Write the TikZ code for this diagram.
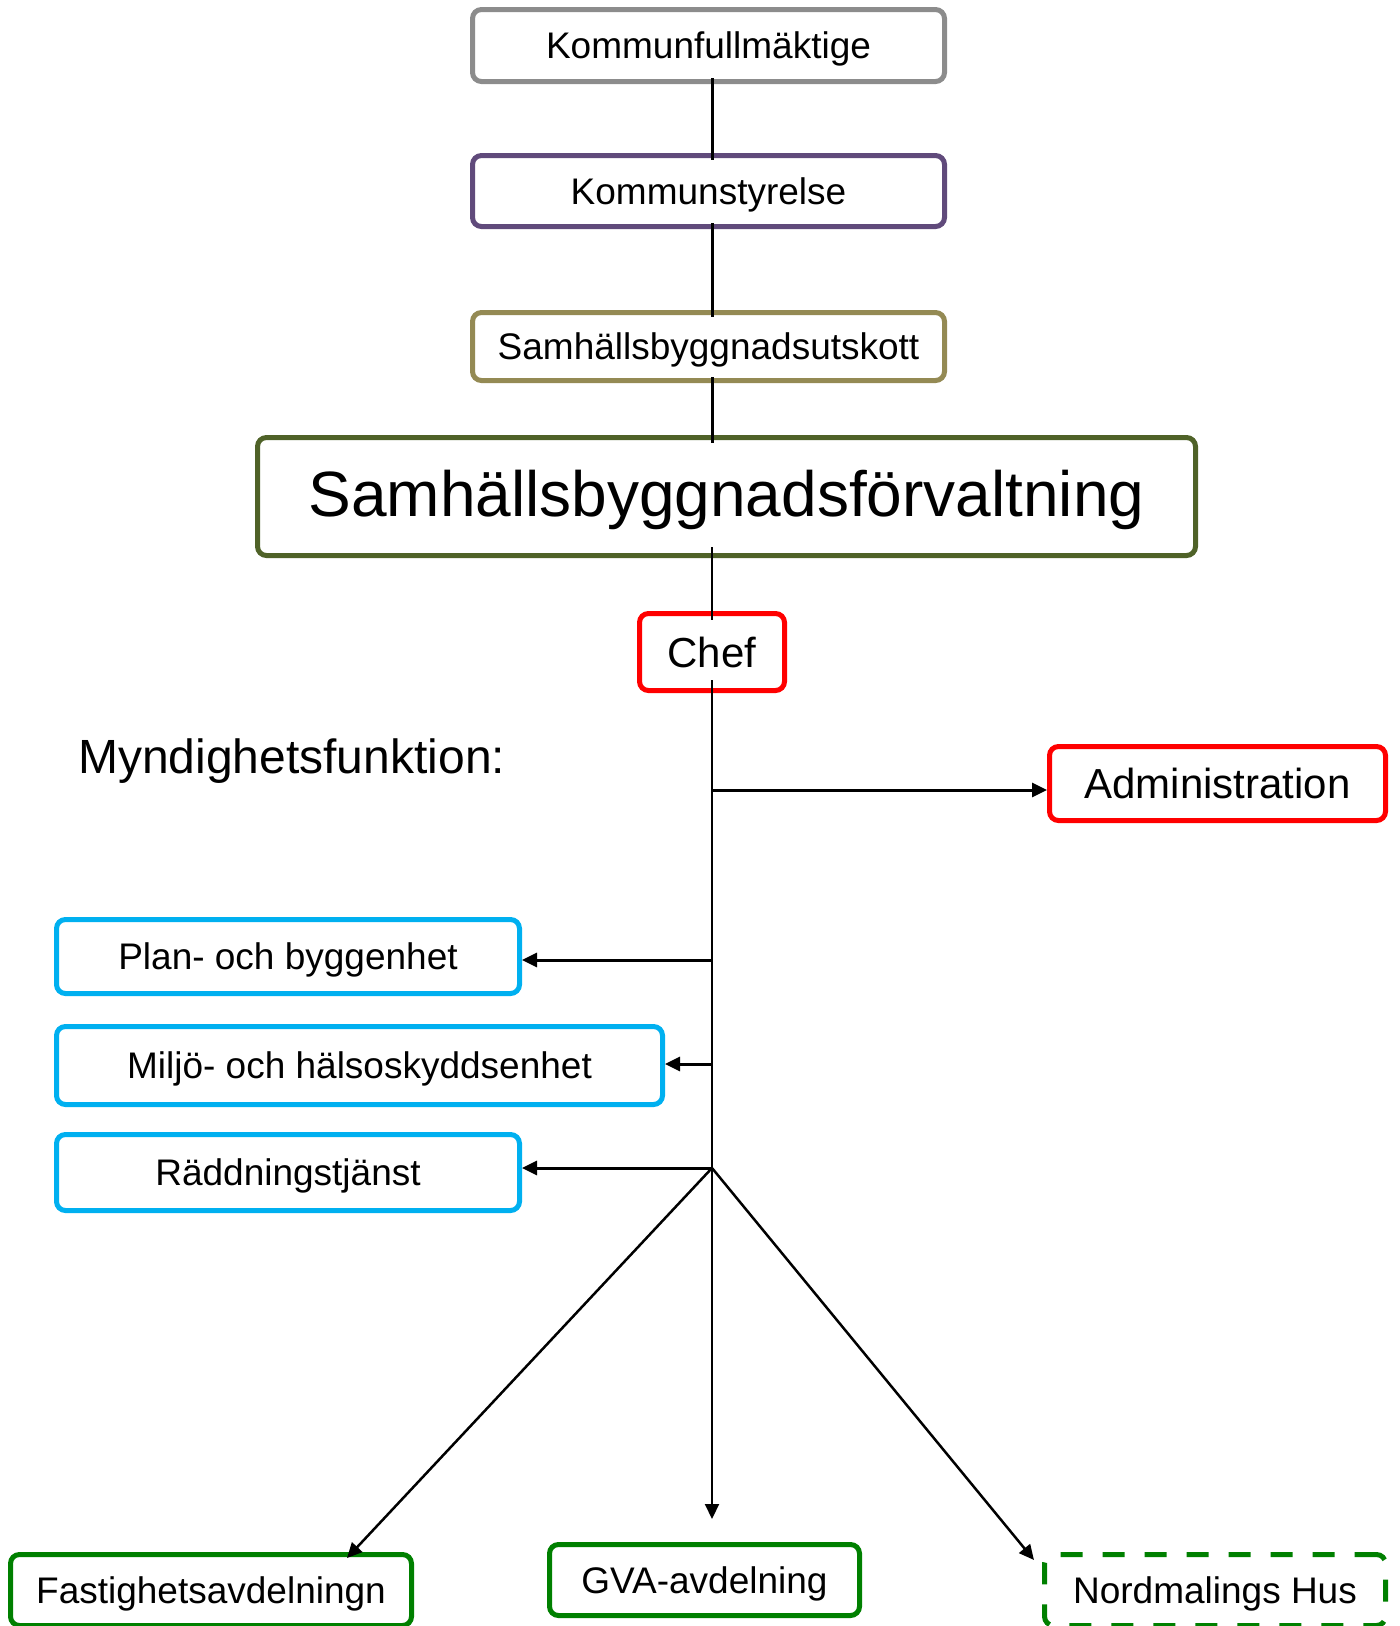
\documentclass[tikz,border=0pt]{standalone}
\usepackage{fontspec}
\setmainfont{Liberation Sans}
\usetikzlibrary{arrows.meta}
\definecolor{cgray}{HTML}{8C8C8C}
\definecolor{cpurple}{HTML}{604A7B}
\definecolor{colive}{HTML}{948A54}
\definecolor{cdolive}{HTML}{4F6228}
\definecolor{cred}{HTML}{FF0000}
\definecolor{ccyan}{HTML}{00B0F0}
\definecolor{cgreen}{HTML}{008000}
\tikzset{
  box/.style={draw, line width=5pt, rounded corners=9pt, fill=white, inner sep=0pt,
    align=center, text depth=0pt},
  fs/.style={font=\fontsize{37}{44}\selectfont, text height=26.5pt},
  fm/.style={font=\fontsize{42}{50}\selectfont, text height=30pt},
  fl/.style={font=\fontsize{64}{76}\selectfont, text height=40pt},
  conn/.style={line width=3pt, draw=black},
  arr/.style={line width=3pt, -{Triangle[length=15pt,width=14pt]}},
  arrthin/.style={line width=2.5pt, -{Triangle[length=15pt,width=14pt]}},
}
\begin{document}
\begin{tikzpicture}[x=1pt,y=-1pt]
\useasboundingbox (0,0) rectangle (1400,1626);
\node[box, fs, draw=cgray, minimum width=472pt, minimum height=72pt] (k1) at (708.5,45.5) {Kommunfullmäktige};
\node[box, fs, draw=cpurple, minimum width=472pt, minimum height=71pt] (k2) at (708.5,191) {Kommunstyrelse};
\node[box, fs, draw=colive, minimum width=472pt, minimum height=68pt] (k3) at (708.5,346.5) {Samhällsbyggnadsutskott};
\node[box, fl, draw=cdolive, minimum width=938pt, minimum height=118pt] (sbf) at (726.5,496.5) {Samhällsbyggnadsförvaltning};
\node[box, fm, draw=cred, minimum width=145pt, minimum height=77pt] (chef) at (712,652) {Chef};

\node[anchor=base west, font=\fontsize{48}{56}\selectfont, inner sep=0pt] (myn) at (78,773) {Myndighetsfunktion:};

\node[box, fm, draw=cred, minimum width=336pt, minimum height=74pt] (adm) at (1217.5,783.5) {Administration};
\node[box, fs, draw=ccyan, minimum width=463pt, minimum height=74pt] (plan) at (288,956.5) {Plan- och byggenhet};
\node[box, fs, draw=ccyan, minimum width=606pt, minimum height=78pt] (milj) at (359.5,1065.5) {Miljö- och hälsoskyddsenhet};
\node[box, fs, draw=ccyan, minimum width=463pt, minimum height=76pt] (radd) at (288,1172.5) {Räddningstjänst};

\node[box, fs, draw=cgreen, minimum width=401pt, minimum height=71pt] (fast) at (211,1590) {Fastighetsavdelningn};
\node[box, fs, draw=cgreen, minimum width=310pt, minimum height=71pt] (gva) at (704.5,1580) {GVA-avdelning};
\node[box, fs, draw=cgreen, dash pattern=on 22pt off 20pt, minimum width=341pt, minimum height=71pt] (nord) at (1215,1590) {Nordmalings Hus};

% coordinates on the main line
\coordinate (ca) at (712,790);
\coordinate (cp) at (712,960);
\coordinate (cm) at (712,1064);
\coordinate (cr) at (712,1168);
\coordinate (tgva) at (712,1519);
\coordinate (tfast) at (347,1558);
\coordinate (tnord) at (1034,1560);

% vertical connectors at top
\draw[conn] ([yshift=6pt]k1.south -| chef) -- ([yshift=-7pt]k2.north -| chef);
\draw[conn] ([yshift=6pt]k2.south -| chef) -- ([yshift=-7pt]k3.north -| chef);
\draw[conn] ([yshift=6pt]k3.south -| chef) -- ([yshift=-8pt]sbf.north -| chef);
\draw[conn, line width=2.5pt] ([yshift=11pt]sbf.south -| chef) -- ([yshift=-9pt]chef.north);

% main trunk
\draw[line width=2pt, -{Triangle[length=15pt,width=14pt]}] ([yshift=13pt]chef.south) -- (tgva);

% side arrows
\draw[arr] (ca) -- (ca -| adm.west);
\draw[arr] (cp) -- (cp -| plan.east);
\draw[arr] (cm) -- (cm -| milj.east);
\draw[arr] (cr) -- (cr -| radd.east);

% diagonal arrows
\draw[arrthin] (cr) -- (tfast);
\draw[arrthin] (cr) -- (tnord);
\end{tikzpicture}
\end{document}
